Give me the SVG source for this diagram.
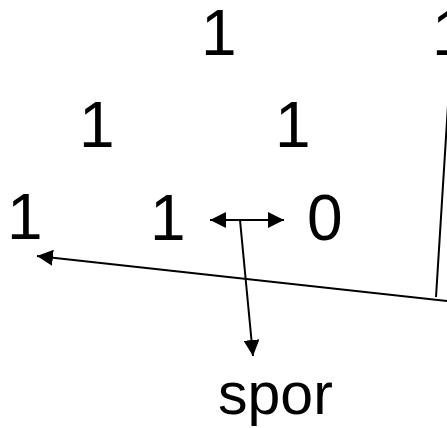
<svg xmlns="http://www.w3.org/2000/svg" width="447" height="428" viewBox="0 0 447 428">
<style>
text{font-family:"Liberation Sans",Arial,sans-serif;fill:#000}
.n{font-size:64px}
.s{font-size:59px}
.c{stroke:#000;stroke-width:2;fill:none}
</style>
<defs>
<marker id="ah" viewBox="0 0 16 16" refX="16" refY="8" markerWidth="16" markerHeight="16" markerUnits="userSpaceOnUse" orient="auto-start-reverse">
<path d="M0,0 L16,8 L0,16 z" fill="#000"/>
</marker>
</defs>
<rect width="447" height="428" fill="#fff"/>
<g id="n1"><text class="n" x="201" y="55">1</text></g>
<g id="n2"><text class="n" x="432" y="55">1</text></g>
<g id="n3"><text class="n" x="79" y="147">1</text></g>
<g id="n4"><text class="n" x="275" y="147">1</text></g>
<g id="n5"><text class="n" x="7" y="239">1</text></g>
<g id="n6"><text class="n" x="150" y="240">1</text></g>
<g id="n7"><text class="n" x="307" y="240">0</text></g>
<g id="n8"><text class="s" x="218" y="414">spor</text></g>
<g id="connectors">
<line class="c" x1="210" y1="220" x2="284" y2="220" marker-start="url(#ah)" marker-end="url(#ah)"/>
<line class="c" x1="240" y1="220" x2="253" y2="356" marker-end="url(#ah)"/>
<line class="c" x1="448" y1="105" x2="436" y2="297"/>
<line class="c" x1="448" y1="301" x2="37" y2="256" marker-end="url(#ah)"/>
</g>
</svg>
